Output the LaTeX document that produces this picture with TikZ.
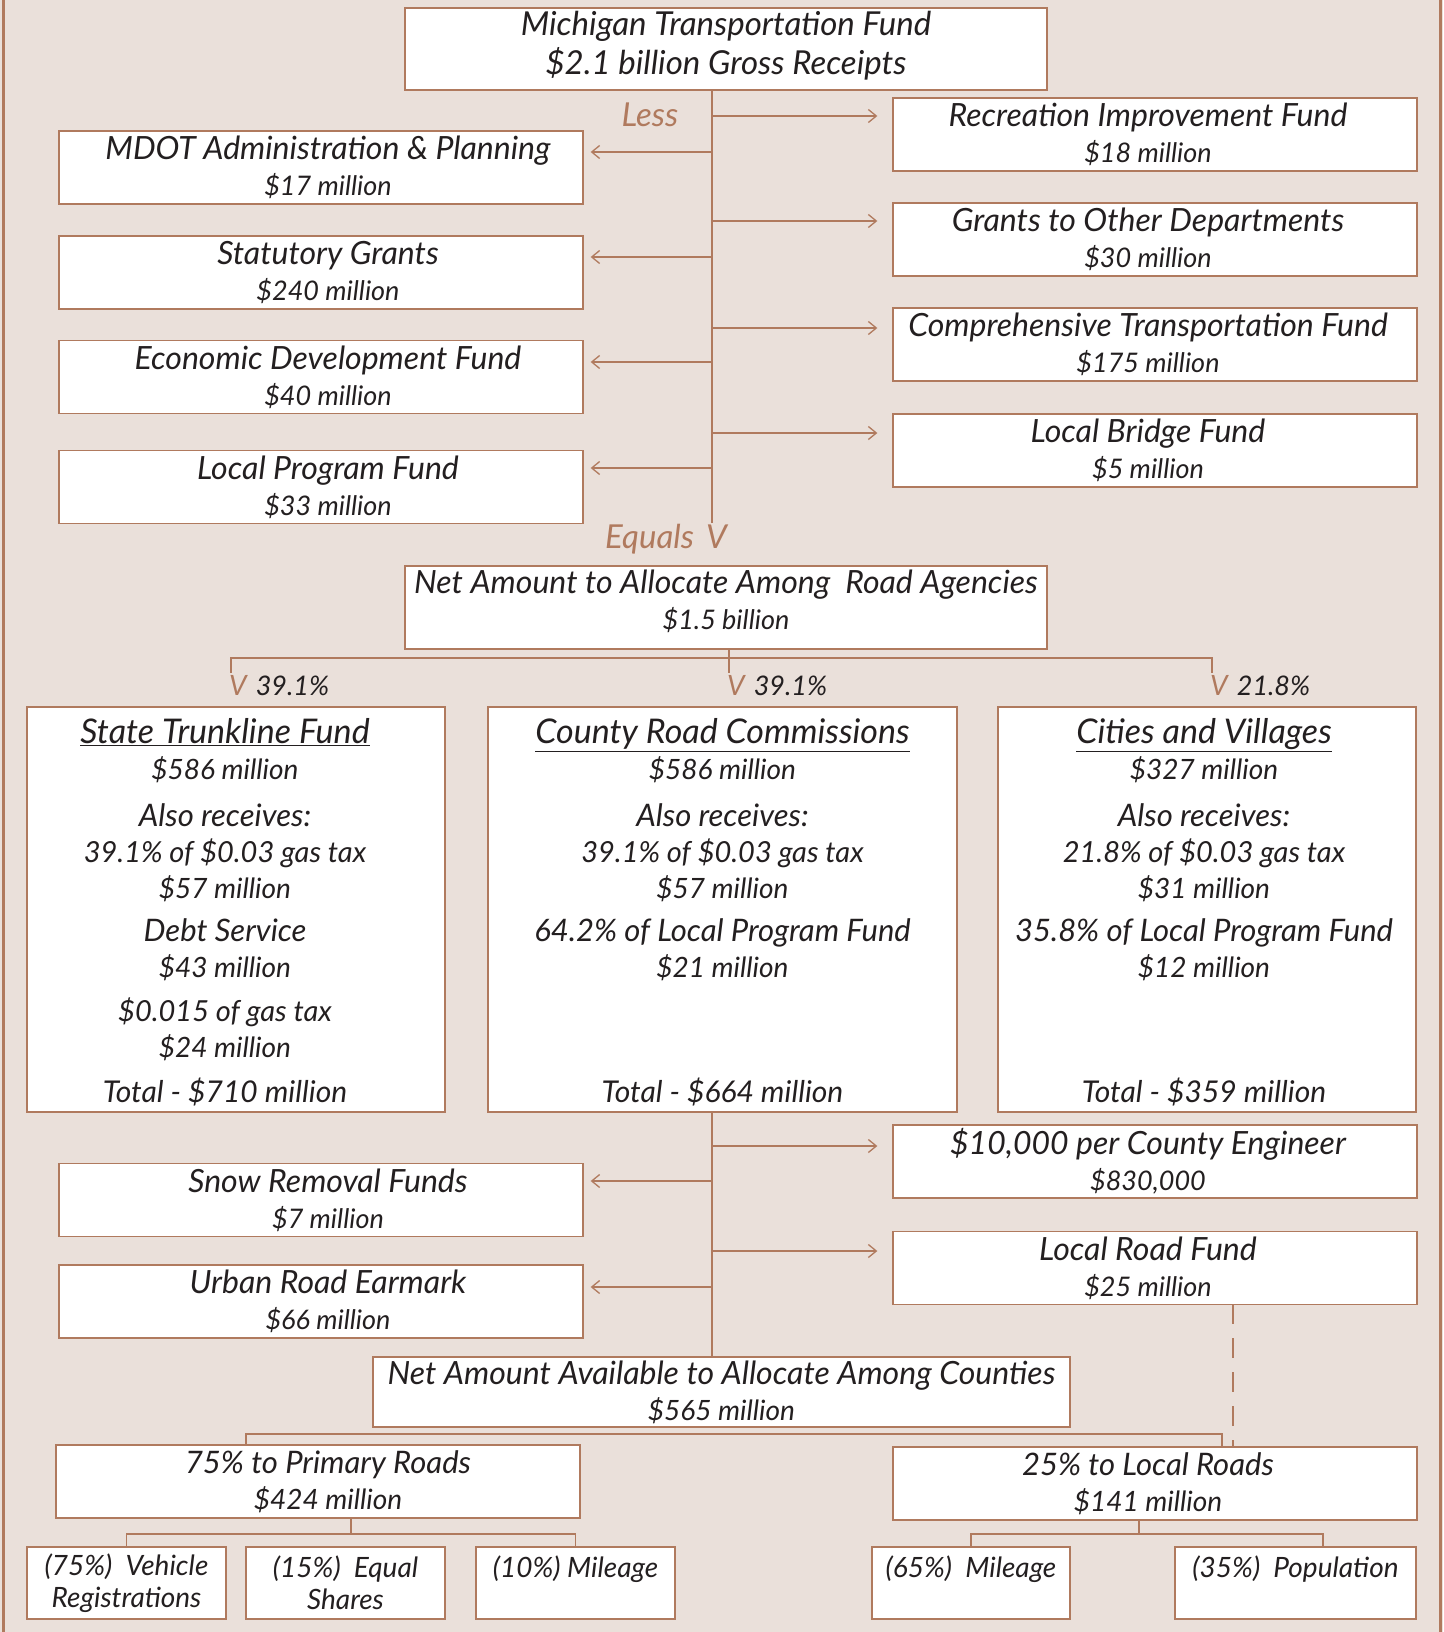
\documentclass[tikz,border=0pt]{standalone}
\usepackage{fontspec}
\setmainfont{Lato}
\usetikzlibrary{arrows.meta,positioning}
\definecolor{bgcol}{HTML}{EAE0DA}
\definecolor{linecol}{HTML}{B07A5E}
\definecolor{inkcol}{HTML}{231F20}
\newcommand{\fs}[1]{\fontsize{#1}{36}\selectfont}
\newcommand{\two}[3][0pt]{\fs{32}\kern#1\relax #2\\\fs{27}\kern#1\relax #3}
\newcommand{\dn}[1]{\rule[-#1]{0pt}{#1}}
\begin{document}
\begin{tikzpicture}[
                    x=1pt, y=-1pt,
                    >={Straight Barb[length=8pt,width=13pt]},
                    box/.style={draw=linecol, fill=white, line width=1.3pt, inner sep=0pt, align=center, text=inkcol, font=\fs{28}\itshape},
                    inbox/.style={inner sep=0pt, align=center, text=inkcol, font=\fs{31}\itshape},
                    small/.style={box, minimum height=72pt, font=\fontsize{28}{32}\selectfont\itshape},
                    link/.style={draw=linecol, line width=1.3pt},
                    note/.style={inner sep=0pt, text=linecol, font=\fs{33}\itshape}
                    ]

                    \fill[bgcol] (0,0) rectangle (1443,1632);
                    \useasboundingbox (0,0) rectangle (1443,1632);
                    \draw[linecol, line width=3pt] (3,0) -- (3,1632);
                    \draw[linecol, line width=2.5pt] (1440.5,0) -- (1440.5,1632);

                    \node[box, minimum width=642pt, minimum height=82pt, font=\fontsize{33}{39}\selectfont\itshape] (mtf) at (726,49) {Michigan Transportation Fund\\\$2.1 billion Gross Receipts\dn{12pt}};

                    \node[box, minimum width=524pt, minimum height=73pt] (rec) at (1155,134.5) {\two[-14pt]{Recreation Improvement Fund}{\$18 million}};
                    \node[box, minimum width=524pt, minimum height=73pt] (grants) at (1155,239.5) {\two[-14pt]{Grants to Other Departments}{\$30 million}};
                    \node[box, minimum width=524pt, minimum height=73pt] (ctf) at (1155,344.5) {\two[-14pt]{Comprehensive Transportation Fund}{\$175 million}};
                    \node[box, minimum width=524pt, minimum height=73pt] (lbf) at (1155,450.5) {\two[-14pt]{Local Bridge Fund}{\$5 million}};

                    \node[box, minimum width=524pt, minimum height=73pt] (mdot) at (321,167.5) {\two[14pt]{MDOT Administration \& Planning}{\$17 million}};
                    \node[box, minimum width=524pt, minimum height=73pt] (stat) at (321,272.5) {\two[14pt]{Statutory Grants}{\$240 million}};
                    \node[box, minimum width=524pt, minimum height=73pt] (edf) at (321,377) {\two[14pt]{Economic Development Fund}{\$40 million}};
                    \node[box, minimum width=524pt, minimum height=73pt] (lpf) at (321,487) {\two[14pt]{Local Program Fund}{\$33 million}};

                    \coordinate (eq) at (712,523);
                    \draw[link] (mtf.south -| eq) -- (eq);
                    \node[note] (less) at (650,115) {Less};
                    \node[note, anchor=east] (equals) at (727,539) {Equals\hspace{12pt}V};

                    \foreach \y/\b in {116/rec, 221/grants, 328/ctf, 433/lbf} {
                        \coordinate (t\b) at (712,\y);
                        \draw[link, ->, shorten >=15pt] (t\b) -- (t\b -| \b.west);
                    }
                    \foreach \y/\b in {152/mdot, 257/stat, 362/edf, 468/lpf} {
                        \coordinate (t\b) at (712,\y);
                        \draw[link, ->, shorten >=7pt] (t\b) -- (t\b -| \b.east);
                    }

                    \node[box, minimum width=642pt, minimum height=83pt] (net) at (726,607.5) {\fs{32}Net Amount to Allocate Among\ \ Road Agencies\\\fs{27}\$1.5 billion\dn{16pt}};

                    \coordinate (sp) at (729,658);
                    \coordinate (sa) at (231,658);
                    \coordinate (sc) at (1212,658);
                    \draw[link] (net.south -| sp) -- (sp);
                    \draw[link] (sa) ++(0,15) -- (sa) -- (sc) -- ++(0,15);
                    \draw[link] (sp) -- ++(0,15);
                    \node[note, anchor=base west, font=\fs{28}\itshape] (pa) at (229,695) {V\hspace{9pt}\textcolor{inkcol}{\fs{27}39.1\%}};
                    \node[note, anchor=base west, font=\fs{28}\itshape] (pb) at (727,695) {V\hspace{9pt}\textcolor{inkcol}{\fs{27}39.1\%}};
                    \node[note, anchor=base west, font=\fs{28}\itshape] (pc) at (1210,695) {V\hspace{9pt}\textcolor{inkcol}{\fs{27}21.8\%}};

                    \node[box, minimum width=418pt, minimum height=405pt] (stf) at (236,909.5) {};
                    \node[box, minimum width=469pt, minimum height=405pt] (crc) at (722.5,909.5) {};
                    \node[box, minimum width=418pt, minimum height=405pt] (cav) at (1207,909.5) {};

                    \node[inbox, anchor=north, xshift=-11pt, yshift=-12pt] (stfin) at (stf.north) {\fs{34}\underline{State Trunkline Fund}\\\fs{28}\$586 million\\[11pt]
                        Also receives:\\\fs{29}39.1\% of \$0.03 gas tax\\\fs{28}\$57 million\\[7pt]
                        Debt Service\\\fs{28}\$43 million\\[8pt]
                        \fs{29}\$0.015 of gas tax\\\fs{28}\$24 million};
                    \node[inbox, anchor=north, yshift=-12pt] (crcin) at (crc.north) {\fs{34}\underline{County Road Commissions}\\\fs{28}\$586 million\\[11pt]
                        Also receives:\\\fs{29}39.1\% of \$0.03 gas tax\\\fs{28}\$57 million\\[7pt]
                        64.2\% of Local Program Fund\\\fs{28}\$21 million};
                    \node[inbox, anchor=north, xshift=-3pt, yshift=-12pt] (cavin) at (cav.north) {\fs{34}\underline{Cities and Villages}\\\fs{28}\$327 million\\[11pt]
                        Also receives:\\\fs{29}21.8\% of \$0.03 gas tax\\\fs{28}\$31 million\\[7pt]
                        35.8\% of Local Program Fund\\\fs{28}\$12 million};
                    \node[inbox, anchor=base, xshift=-11pt, font=\fs{30}\itshape] (stftot) at (stf.south |- 0,1102) {Total - \$710 million};
                    \node[inbox, anchor=base, font=\fs{30}\itshape] (crctot) at (crc.south |- 0,1102) {Total - \$664 million};
                    \node[inbox, anchor=base, xshift=-3pt, font=\fs{30}\itshape] (cavtot) at (cav.south |- 0,1102) {Total - \$359 million};

                    \node[box, minimum width=524pt, minimum height=73pt] (eng) at (1155,1161.5) {\two[-14pt]{\$10,000 per County Engineer}{\$830,000}};
                    \node[box, minimum width=524pt, minimum height=73pt] (lrf) at (1155,1268) {\two[-14pt]{Local Road Fund}{\$25 million}};
                    \node[box, minimum width=524pt, minimum height=73pt] (snow) at (321,1200) {\two[14pt]{Snow Removal Funds}{\$7 million}};
                    \node[box, minimum width=524pt, minimum height=73pt] (urban) at (321,1301.5) {\two[14pt]{Urban Road Earmark}{\$66 million}};

                    \node[box, minimum width=697pt, minimum height=70pt] (avail) at (721.5,1392) {\fs{32}Net Amount Available to Allocate Among Counties\\\fs{28}\$565 million};

                    \coordinate (lowtop) at (712,1112);
                    \draw[link] (lowtop) -- (lowtop |- avail.north);
                    \foreach \y/\b in {1146/eng, 1251/lrf} {
                        \coordinate (t\b) at (712,\y);
                        \draw[link, ->, shorten >=15pt] (t\b) -- (t\b -| \b.west);
                    }
                    \foreach \y/\b in {1181/snow, 1287/urban} {
                        \coordinate (t\b) at (712,\y);
                        \draw[link, ->, shorten >=7pt] (t\b) -- (t\b -| \b.east);
                    }

                    \node[box, minimum width=524pt, minimum height=73pt] (prim) at (318,1481.5) {\fs{31}\kern20pt\relax 75\% to Primary Roads\\\fs{28}\kern20pt\relax \$424 million};
                    \node[box, minimum width=524pt, minimum height=73pt] (loc) at (1155,1483.5) {\fs{31}\kern-14pt\relax 25\% to Local Roads\\\fs{28}\kern-14pt\relax \$141 million};

                    \coordinate (dsh) at (1233,1304);
                    \draw[link, dash pattern=on 20pt off 14pt] (dsh) -- (dsh |- loc.north);
                    \coordinate (pa1) at (246,1434);
                    \coordinate (pa2) at (1222,1434);
                    \draw[link] (prim.north -| pa1) -- (pa1) -- (pa2) -- (pa2 |- loc.north);

                    \node[small, minimum width=199pt] (veh) at (126.5,1583) {(75\%)\ \ Vehicle\\Registrations};
                    \node[small, minimum width=199pt] (eqs) at (345.5,1583) {(15\%)\ \ Equal\\Shares};
                    \node[small, minimum width=199pt] (mil) at (575.5,1583) {(10\%) Mileage\\\mbox{}};
                    \node[small, minimum width=198pt] (m65) at (971,1583) {(65\%)\ \ Mileage\\\mbox{}};
                    \node[small, minimum width=241pt] (pop) at (1295.5,1583) {(35\%)\ \ Population\\\mbox{}};

                    \coordinate (pb) at (351,1534);
                    \draw[link] (prim.south -| pb) -- (pb);
                    \draw[link] (veh.north) |- (pb) -| (mil.north);
                    \coordinate (lb) at (1139,1534);
                    \coordinate (pd) at (1323,1547);
                    \draw[link] (loc.south -| lb) -- (lb);
                    \draw[link] (m65.north) |- (lb) -| (pd);
                \end{tikzpicture}
\end{document}
